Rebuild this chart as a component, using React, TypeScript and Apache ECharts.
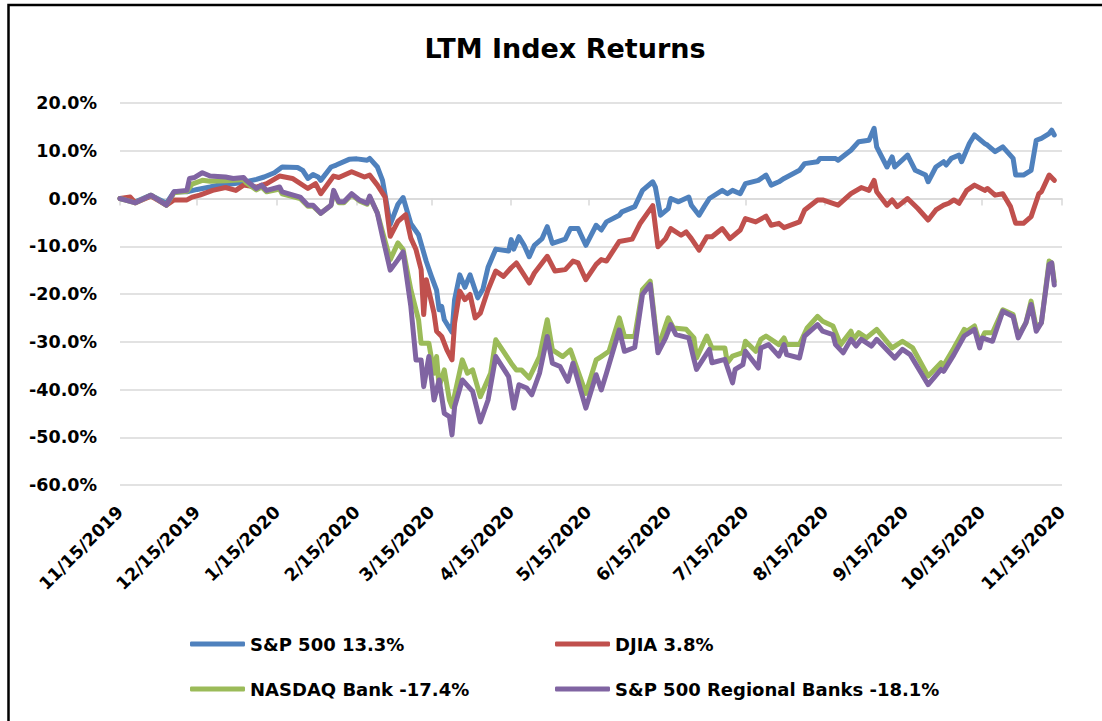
import React, { useEffect, useRef } from "react";
import * as echarts from "echarts";

// x = days since 11/15/2019, y = cumulative return (%)
const spData: [number, number][] = [
  [0, 0], [3, -0.3], [6, -0.7], [12, 0.7], [18, -1.0], [21, 1.4], [26, 1.4], [30, 1.9], [35, 2.4], [39, 2.9],
  [44, 3.1], [49, 3.5], [53, 4.0], [56, 4.5], [60, 5.4], [63, 6.6], [69, 6.5], [71, 5.9], [73, 4.2], [75, 5.0],
  [77, 4.5], [78, 3.8], [82, 6.6], [84, 7.0], [89, 8.2], [92, 8.3], [96, 8.0], [97, 8.4], [100, 6.6], [102, 3.8],
  [105, -5.4], [108, -1.2], [110, 0.2], [113, -5.3], [116, -7.6], [119, -13.2], [121, -16.3], [123, -19.2], [124, -23.3], [125, -22.6],
  [126, -25.4], [129, -28.0], [130, -21.2], [132, -16.0], [134, -18.6], [136, -16.0], [139, -20.8], [141, -19.0], [143, -14.4], [146, -10.6],
  [151, -11.0], [152, -8.6], [153, -10.6], [155, -8.0], [157, -9.8], [159, -12.2], [161, -9.8], [164, -8.4], [166, -5.9], [168, -9.4],
  [173, -8.5], [175, -6.3], [178, -6.3], [181, -9.8], [185, -5.6], [187, -6.6], [189, -4.9], [194, -3.5], [195, -2.8], [200, -1.7],
  [203, 1.7], [207, 3.5], [208, 2.4], [210, -3.5], [213, -2.1], [214, 0], [217, -0.7], [221, 0.3], [222, -1.4], [225, -3.5],
  [227, -1.7], [229, 0], [234, 1.7], [236, 1.0], [238, 1.7], [241, 1.0], [243, 3.1], [248, 3.8], [251, 4.9], [253, 2.8],
  [256, 3.5], [258, 4.2], [264, 5.9], [266, 7.3], [271, 7.7], [272, 8.4], [278, 8.4], [279, 8.0], [284, 10.1], [287, 11.9],
  [291, 12.2], [293, 14.7], [294, 10.8], [298, 6.6], [300, 8.7], [301, 6.6], [306, 9.1], [309, 5.9], [313, 4.9], [314, 3.5],
  [317, 6.6], [320, 7.7], [321, 7.0], [323, 8.4], [326, 9.1], [327, 7.7], [330, 11.5], [332, 13.3], [336, 11.5], [337, 11.2],
  [340, 9.8], [343, 10.8], [347, 8.4], [348, 4.9], [351, 4.9], [354, 5.9], [356, 12.2], [358, 12.6], [361, 13.6], [362, 14.3], [363, 13.3],
];

const djiaData: [number, number][] = [
  [0, 0], [4, 0.3], [6, -0.9], [12, 0.5], [18, -1.4], [21, -0.3], [26, -0.3], [28, 0.3], [31, 0.7], [36, 1.7],
  [41, 2.3], [45, 1.7], [48, 2.8], [53, 2.4], [57, 3.1], [62, 4.7], [67, 4.2], [73, 2.1], [76, 3.1], [78, 1.0],
  [83, 4.7], [85, 4.4], [90, 5.6], [95, 4.5], [97, 4.9], [100, 2.8], [103, 0.3], [105, -7.9], [108, -4.8], [111, -3.4],
  [113, -8.3], [115, -10.7], [117, -14.9], [118, -24.3], [119, -17.0], [122, -24.0], [123, -27.8], [125, -28.9], [127, -31.7], [129, -33.8],
  [130, -26.1], [132, -19.4], [134, -21.2], [136, -20.1], [138, -25.0], [140, -24.0], [143, -19.1], [146, -15.2], [149, -16.3], [152, -14.5],
  [154, -13.5], [159, -17.7], [161, -15.6], [166, -12.1], [169, -15.2], [173, -14.9], [176, -13.1], [178, -13.5], [181, -17.0], [185, -13.8],
  [187, -12.8], [189, -13.1], [194, -9.0], [199, -8.5], [202, -5.3], [207, -1.5], [209, -10.1], [212, -8.4], [214, -6.3], [218, -7.7],
  [220, -7.0], [222, -8.4], [225, -10.8], [228, -8.0], [230, -8.0], [234, -6.3], [237, -8.4], [241, -6.6], [243, -4.2], [247, -4.9],
  [251, -3.7], [253, -5.6], [256, -5.2], [258, -6.1], [264, -4.9], [266, -2.4], [271, -0.3], [273, -0.3], [279, -1.4], [284, 1.0],
  [288, 2.3], [291, 1.7], [293, 3.8], [294, 1.4], [298, -1.4], [300, -0.3], [302, -1.7], [306, 0], [310, -2.1], [314, -4.5],
  [317, -2.4], [320, -1.4], [322, -1.0], [324, -0.3], [326, -1.0], [329, 1.7], [332, 2.8], [336, 1.7], [337, 2.1], [340, 0.7],
  [343, 1.0], [346, -1.7], [348, -5.2], [351, -5.2], [354, -3.8], [357, 1.0], [358, 1.4], [361, 4.9], [363, 3.8],
];

const nasdaqBankData: [number, number][] = [
  [0, 0], [6, -0.9], [12, 0.7], [18, -1.4], [21, 1.2], [26, 1.5], [28, 3.0], [32, 3.8], [35, 3.6], [41, 3.7],
  [44, 3.8], [48, 4.0], [49, 3.3], [53, 1.8], [55, 2.4], [57, 1.4], [62, 2.0], [63, 1.0], [70, 0.0], [73, -1.6],
  [75, -1.6], [78, -3.1], [82, -1.4], [83, 1.4], [85, -0.9], [87, -0.9], [90, 0.8], [93, -0.5], [96, -1.2], [97, 0.3],
  [100, -3.0], [102, -7.0], [105, -12.8], [108, -9.3], [110, -10.7], [113, -19.1], [116, -25.4], [117, -30.3], [120, -30.3], [122, -36.6],
  [123, -33.1], [124, -39.4], [126, -35.9], [128, -42.2], [129, -43.6], [131, -38.7], [133, -33.8], [135, -36.6], [137, -35.9], [140, -41.5],
  [144, -36.6], [146, -29.6], [152, -34.5], [154, -35.9], [156, -35.9], [159, -37.6], [163, -33.1], [166, -25.4], [168, -31.7], [172, -33.1],
  [175, -31.7], [181, -40.8], [185, -33.8], [187, -33.1], [190, -32.0], [194, -25.0], [196, -28.9], [200, -28.9], [203, -19.1], [206, -17.3],
  [209, -31.3], [213, -25.0], [215, -27.1], [220, -27.4], [223, -29.2], [224, -33.4], [228, -28.8], [230, -31.3], [235, -31.3], [236, -34.4],
  [238, -33.0], [242, -32.3], [243, -29.9], [247, -32.0], [249, -29.5], [251, -28.8], [256, -30.6], [258, -29.2], [259, -30.6], [264, -30.6],
  [267, -27.1], [271, -24.7], [273, -25.7], [277, -26.7], [280, -30.6], [284, -27.8], [285, -29.5], [287, -28.1], [290, -29.2], [294, -27.4],
  [300, -31.3], [304, -29.9], [308, -31.3], [314, -37.2], [319, -34.4], [320, -35.0], [324, -31.3], [328, -27.4], [329, -27.8], [332, -26.7],
  [334, -30.2], [336, -28.1], [339, -28.1], [343, -23.3], [347, -24.3], [349, -28.8], [352, -26.0], [354, -21.5], [356, -27.1], [358, -26.0],
  [361, -13.1], [362, -13.5], [363, -17.4],
];

const regionalData: [number, number][] = [
  [0, 0], [6, -0.9], [12, 0.7], [18, -1.4], [21, 1.4], [26, 1.7], [27, 4.2], [29, 4.4], [32, 5.4], [35, 4.7],
  [41, 4.5], [44, 4.2], [48, 4.4], [49, 3.8], [53, 2.1], [55, 2.8], [57, 1.7], [62, 2.4], [63, 1.4], [70, 0.3],
  [73, -1.4], [75, -1.4], [78, -3.1], [82, -1.4], [83, 1.7], [85, -0.7], [87, -0.7], [90, 1.0], [93, -0.3], [96, -1.0],
  [97, 0.5], [100, -3.1], [102, -8.0], [105, -15.0], [108, -12.8], [110, -11.2], [113, -22.6], [115, -33.8], [117, -33.8], [118, -39.4],
  [120, -33.1], [122, -42.2], [124, -38.0], [126, -45.0], [128, -45.7], [129, -49.5], [130, -43.6], [133, -38.0], [137, -40.4], [140, -46.8],
  [143, -42.2], [146, -33.1], [151, -37.3], [153, -43.9], [155, -39.0], [158, -39.7], [160, -41.1], [163, -36.6], [166, -28.9], [168, -34.5],
  [171, -35.2], [174, -38.3], [176, -34.5], [181, -43.9], [185, -36.9], [187, -40.1], [189, -36.6], [194, -27.5], [196, -32.0], [200, -31.2],
  [203, -20.1], [206, -18.0], [209, -32.3], [212, -29.2], [214, -26.4], [216, -28.5], [221, -29.2], [223, -33.7], [224, -35.8], [229, -31.6],
  [230, -34.4], [235, -33.7], [238, -38.6], [239, -35.8], [242, -34.8], [243, -32.0], [248, -35.5], [249, -31.3], [252, -30.6], [256, -33.0],
  [258, -30.6], [259, -32.7], [264, -33.4], [266, -28.8], [271, -26.4], [273, -27.8], [277, -28.5], [278, -30.6], [281, -32.3], [284, -29.5],
  [286, -30.9], [288, -29.5], [292, -30.9], [294, -29.5], [301, -33.4], [304, -31.6], [307, -32.7], [314, -39.0], [319, -35.8], [320, -36.2],
  [324, -32.7], [328, -28.8], [332, -27.4], [334, -31.3], [335, -29.2], [339, -29.9], [343, -23.6], [347, -24.7], [349, -29.2], [352, -26.0],
  [354, -22.2], [356, -27.8], [358, -26.0], [361, -13.8], [362, -13.5], [363, -18.1],
];

const seriesNames = ["S&P 500 13.3%", "DJIA 3.8%", "NASDAQ Bank -17.4%", "S&P 500 Regional Banks -18.1%"];
const seriesColors = ["#4F81BD", "#C0504D", "#9BBB59", "#8064A2"];

const tickDays = [0, 30, 61, 92, 121, 152, 182, 213, 243, 274, 305, 335, 366];
const tickLabels = [
  "11/15/2019", "12/15/2019", "1/15/2020", "2/15/2020", "3/15/2020", "4/15/2020", "5/15/2020",
  "6/15/2020", "7/15/2020", "8/15/2020", "9/15/2020", "10/15/2020", "11/15/2020",
];

const FONT = "'DejaVu Sans', sans-serif";

export default function App() {
  const ref = useRef<HTMLDivElement>(null);

  useEffect(() => {
    if (!ref.current) return;
    const chart = echarts.init(ref.current, undefined, { renderer: "svg" });
    const datasets = [spData, djiaData, nasdaqBankData, regionalData];

    const legendPos = [
      { left: 190, top: 635 },
      { left: 555, top: 635 },
      { left: 190, top: 680 },
      { left: 555, top: 680 },
    ];

    chart.setOption({
      animation: false,
      backgroundColor: "#fff",
      title: {
        text: "LTM Index Returns",
        left: 560,
        top: 30,
        textAlign: "center",
        textStyle: { fontFamily: FONT, fontWeight: "bold", fontSize: 27, color: "#000" },
      },
      grid: { left: 120, top: 103, width: 942, height: 382, containLabel: false },
      legend: legendPos.map((p, i) => ({
        data: [seriesNames[i]],
        left: p.left,
        top: p.top,
        padding: 0,
        icon: "roundRect",
        itemWidth: 55,
        itemHeight: 5,
        textStyle: { fontFamily: FONT, fontWeight: "bold", fontSize: 18, color: "#000" },
      })),
      xAxis: [
        {
          type: "value",
          min: 0,
          max: 366,
          axisLine: { onZero: true, lineStyle: { color: "#D9D9D9", width: 1.5 } },
          axisTick: { show: true, length: 7, customValues: tickDays, lineStyle: { color: "#D9D9D9", width: 1.5 } },
          axisLabel: { show: false },
          splitLine: { show: false },
        },
        {
          type: "value",
          min: 0,
          max: 366,
          position: "bottom",
          axisLine: { show: false, onZero: false },
          axisTick: { show: false },
          splitLine: { show: false },
          axisLabel: {
            customValues: tickDays,
            rotate: 45,
            margin: 24,
            fontFamily: FONT,
            fontWeight: "bold",
            fontSize: 17.5,
            color: "#000",
            formatter: (v: number) => {
              const i = tickDays.indexOf(Math.round(v));
              return i >= 0 ? tickLabels[i] : "";
            },
          },
        },
      ],
      yAxis: {
        type: "value",
        min: -60,
        max: 20,
        interval: 10,
        axisLine: { show: false },
        axisTick: { show: false },
        splitLine: { lineStyle: { color: "#D9D9D9", width: 1.5 } },
        axisLabel: {
          margin: 23,
          fontFamily: FONT,
          fontWeight: "bold",
          fontSize: 17.5,
          color: "#000",
          formatter: (v: number) => v.toFixed(1) + "%",
        },
      },
      graphic: [
        {
          type: "rect",
          silent: true,
          shape: { x: 8.5, y: 5, width: 1300, height: 900 },
          style: { fill: "none", stroke: "#000", lineWidth: 2.5 },
        },
      ],
      series: datasets.map((d, i) => ({
        name: seriesNames[i],
        type: "line",
        xAxisIndex: 0,
        data: d,
        showSymbol: false,
        symbol: "none",
        color: seriesColors[i],
        lineStyle: { width: 5, color: seriesColors[i], cap: "round", join: "round" },
      })),
    });

    return () => chart.dispose();
  }, []);

  return (
    <div
      ref={ref}
      style={{ position: "fixed", left: 0, top: 0, width: 1102, height: 721, background: "#fff" }}
    />
  );
}
